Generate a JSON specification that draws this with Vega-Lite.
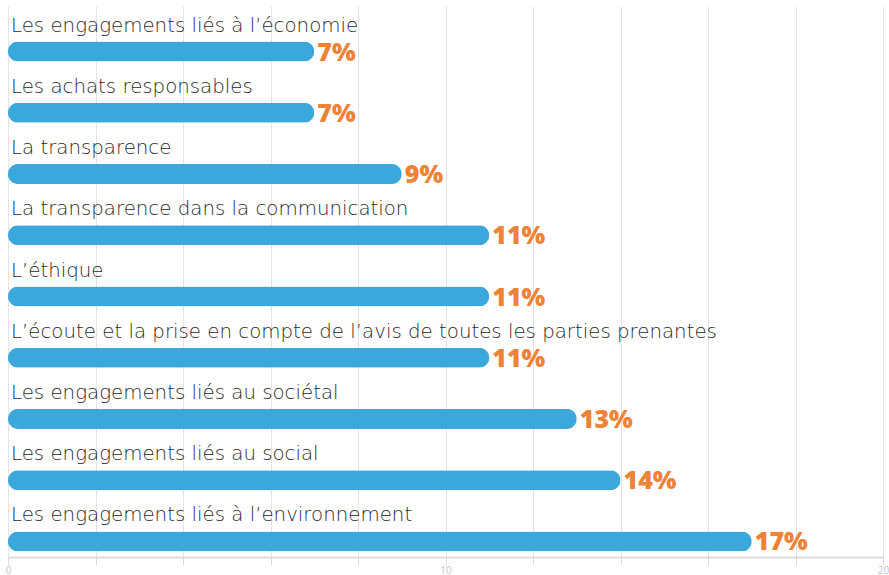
{
  "$schema": "https://vega.github.io/schema/vega-lite/v6.json",
  "width": 875,
  "height": 551,
  "autosize": {"type": "none"},
  "padding": {"left": 8, "top": 6, "right": 6, "bottom": 18},
  "background": "white",
  "config": {"view": {"stroke": null}},
  "data": {
    "values": [
      {"item": "Les engagements liés à l’économie", "value": 7},
      {"item": "Les achats responsables", "value": 7},
      {"item": "La transparence", "value": 9},
      {"item": "La transparence dans la communication", "value": 11},
      {"item": "L’éthique", "value": 11},
      {"item": "L’écoute et la prise en compte de l’avis de toutes les parties prenantes", "value": 11},
      {"item": "Les engagements liés au sociétal", "value": 13},
      {"item": "Les engagements liés au social", "value": 14},
      {"item": "Les engagements liés à l’environnement", "value": 17}
    ]
  },
  "transform": [{"calculate": "datum.value + '%'", "as": "pct"}],
  "encoding": {
    "y": {"field": "item", "type": "nominal", "sort": null, "axis": null, "scale": {"paddingInner": 0, "paddingOuter": 0}}
  },
  "layer": [
    {
      "mark": {"type": "bar", "height": 20, "cornerRadius": 10, "color": "#3AA8DB", "yOffset": 15},
      "encoding": {
        "x": {
          "field": "value", "type": "quantitative",
          "scale": {"domain": [0, 20], "nice": false},
          "axis": {
            "title": null,
            "values": [0, 2, 4, 6, 8, 10, 12, 14, 16, 18, 20],
            "labelExpr": "datum.value % 10 === 0 ? datum.label : ''",
            "grid": true, "gridColor": "#e3e3e3", "gridWidth": 1,
            "domainColor": "#dcdcdc", "domainWidth": 2,
            "tickColor": "#dcdcdc", "tickSize": 8,
            "labelColor": "#c4c4c4", "labelFontSize": 10, "labelFont": "Open Sans",
            "labelPadding": 0, "labelFlush": false
          }
        }
      }
    },
    {
      "mark": {"type": "text", "align": "left", "baseline": "alphabetic", "dx": 3, "yOffset": -5, "font": "DejaVu Sans", "fontWeight": 200, "fontSize": 19.8, "color": "#2a2a2a"},
      "encoding": {
        "x": {"datum": 0, "type": "quantitative"},
        "text": {"field": "item"}
      }
    },
    {
      "mark": {"type": "text", "align": "left", "baseline": "middle", "dx": 3, "yOffset": 16, "font": "Open Sans", "fontWeight": 800, "fontSize": 25, "color": "#EE8237"},
      "encoding": {
        "x": {"field": "value", "type": "quantitative"},
        "text": {"field": "pct"},
        "detail": {"field": "item"}
      }
    }
  ]
}
